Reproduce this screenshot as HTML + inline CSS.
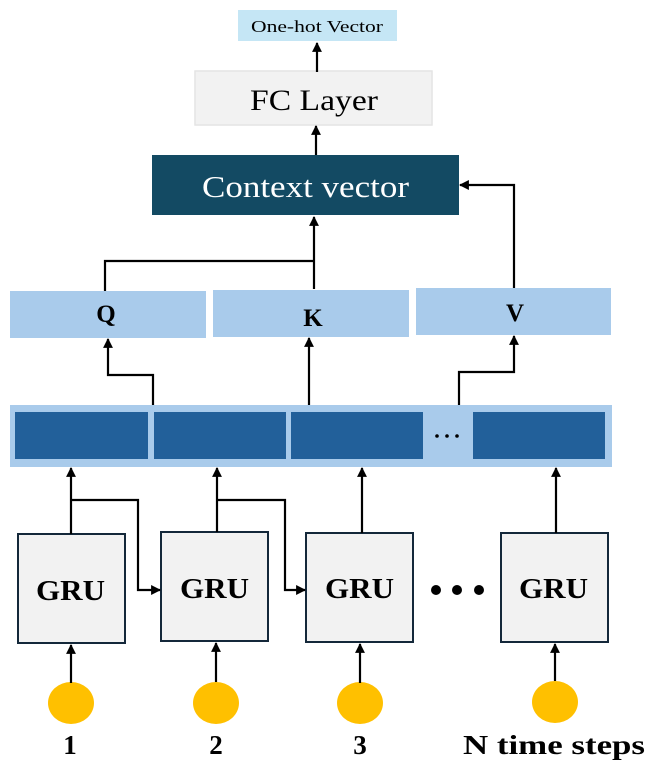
<!DOCTYPE html>
<html><head><meta charset="utf-8"><style>
html,body{margin:0;padding:0;background:#fff;width:656px;height:768px;overflow:hidden}
svg{display:block}
text{font-family:"Liberation Serif","DejaVu Serif",serif}
</style></head><body>
<svg width="656" height="768" viewBox="0 0 656 768" xmlns="http://www.w3.org/2000/svg">
<defs>
<marker id="a" viewBox="0 0 10 10" refX="9" refY="5" markerWidth="4.5" markerHeight="4.5" orient="auto-start-reverse" markerUnits="strokeWidth"><path d="M0,0 L10,5 L0,10 z" fill="#000"/></marker>
</defs>
<!-- One-hot -->
<rect x="238" y="10" width="159" height="31" fill="#c5e6f5"/>
<text x="251" y="32" font-size="17" textLength="132" lengthAdjust="spacingAndGlyphs">One-hot Vector</text>
<!-- FC -->
<rect x="195" y="71" width="237" height="54" fill="#f2f2f2" stroke="#e4e4e4" stroke-width="1.5"/>
<text x="250" y="110" font-size="30" textLength="128" lengthAdjust="spacingAndGlyphs">FC Layer</text>
<!-- Context -->
<rect x="152" y="155" width="307" height="60" fill="#134a63"/>
<text x="202" y="197" font-size="31" fill="#fff" textLength="207" lengthAdjust="spacingAndGlyphs">Context vector</text>
<!-- QKV -->
<rect x="10" y="291" width="196" height="47" fill="#a9cbeb"/>
<rect x="213" y="290" width="196" height="47" fill="#a9cbeb"/>
<rect x="416" y="288" width="195" height="47" fill="#a9cbeb"/>
<text x="106" y="322" font-size="25" font-weight="bold" text-anchor="middle">Q</text>
<text x="313" y="326" font-size="25" font-weight="bold" text-anchor="middle">K</text>
<text x="515" y="321" font-size="25" font-weight="bold" text-anchor="middle">V</text>
<!-- strip -->
<rect x="10" y="405" width="602" height="62" fill="#a9cbeb"/>
<rect x="15" y="412" width="133" height="47" fill="#22609a"/>
<rect x="154" y="412" width="132" height="47" fill="#22609a"/>
<rect x="291" y="412" width="132" height="47" fill="#22609a"/>
<rect x="473" y="412" width="132" height="47" fill="#22609a"/>
<circle cx="437" cy="436" r="1.8" fill="#000"/><circle cx="447" cy="436" r="1.8" fill="#000"/><circle cx="457" cy="436" r="1.8" fill="#000"/>
<!-- GRUs -->
<g fill="#f2f2f2" stroke="#14283a" stroke-width="2">
<rect x="18" y="534" width="107" height="109"/>
<rect x="161" y="532" width="107" height="109"/>
<rect x="306" y="533" width="107" height="109"/>
<rect x="501" y="533" width="107" height="109"/>
</g>
<g font-size="28" font-weight="bold">
<text x="36" y="600" textLength="69" lengthAdjust="spacingAndGlyphs">GRU</text>
<text x="180" y="598" textLength="69" lengthAdjust="spacingAndGlyphs">GRU</text>
<text x="325" y="598" textLength="69" lengthAdjust="spacingAndGlyphs">GRU</text>
<text x="519" y="598" textLength="69" lengthAdjust="spacingAndGlyphs">GRU</text>
</g>
<circle cx="436" cy="590" r="5" fill="#000"/><circle cx="457" cy="590" r="5" fill="#000"/><circle cx="479" cy="590" r="5" fill="#000"/>
<!-- inputs -->
<g fill="#ffc000">
<ellipse cx="71" cy="703" rx="23" ry="21"/><ellipse cx="216" cy="703" rx="23" ry="21"/><ellipse cx="360" cy="703" rx="23" ry="21"/><ellipse cx="555" cy="702" rx="23" ry="21"/>
</g>
<g font-size="27" font-weight="bold" text-anchor="middle">
<text x="70" y="754">1</text><text x="216" y="754">2</text><text x="360" y="754">3</text>
</g>
<text x="463" y="754" font-size="27" font-weight="bold" textLength="182" lengthAdjust="spacingAndGlyphs">N time steps</text>
<!-- connectors -->
<g stroke="#000" stroke-width="2.2" fill="none" marker-end="url(#a)">
<path d="M317 72 V43"/>
<path d="M316 155 V126"/>
<path d="M514 288 V185 H460"/>
<path d="M314 289 V217"/>
<path d="M153 405 V375 H108 V339"/>
<path d="M309 405 V338"/>
<path d="M459 405 V372 H514 V336"/>
<path d="M71 534 V468"/>
<path d="M217 532 V468"/>
<path d="M362 533 V468"/>
<path d="M556 533 V468"/>
<path d="M71 500 H138 V590 H160"/>
<path d="M217 500 H285 V590 H305"/>
<path d="M71 683 V645"/>
<path d="M216 682 V643"/>
<path d="M360 683 V644"/>
<path d="M555 681 V644"/>
</g>
<path d="M105 291 V261 H314" stroke="#000" stroke-width="2.2" fill="none"/>
</svg>
</body></html>
